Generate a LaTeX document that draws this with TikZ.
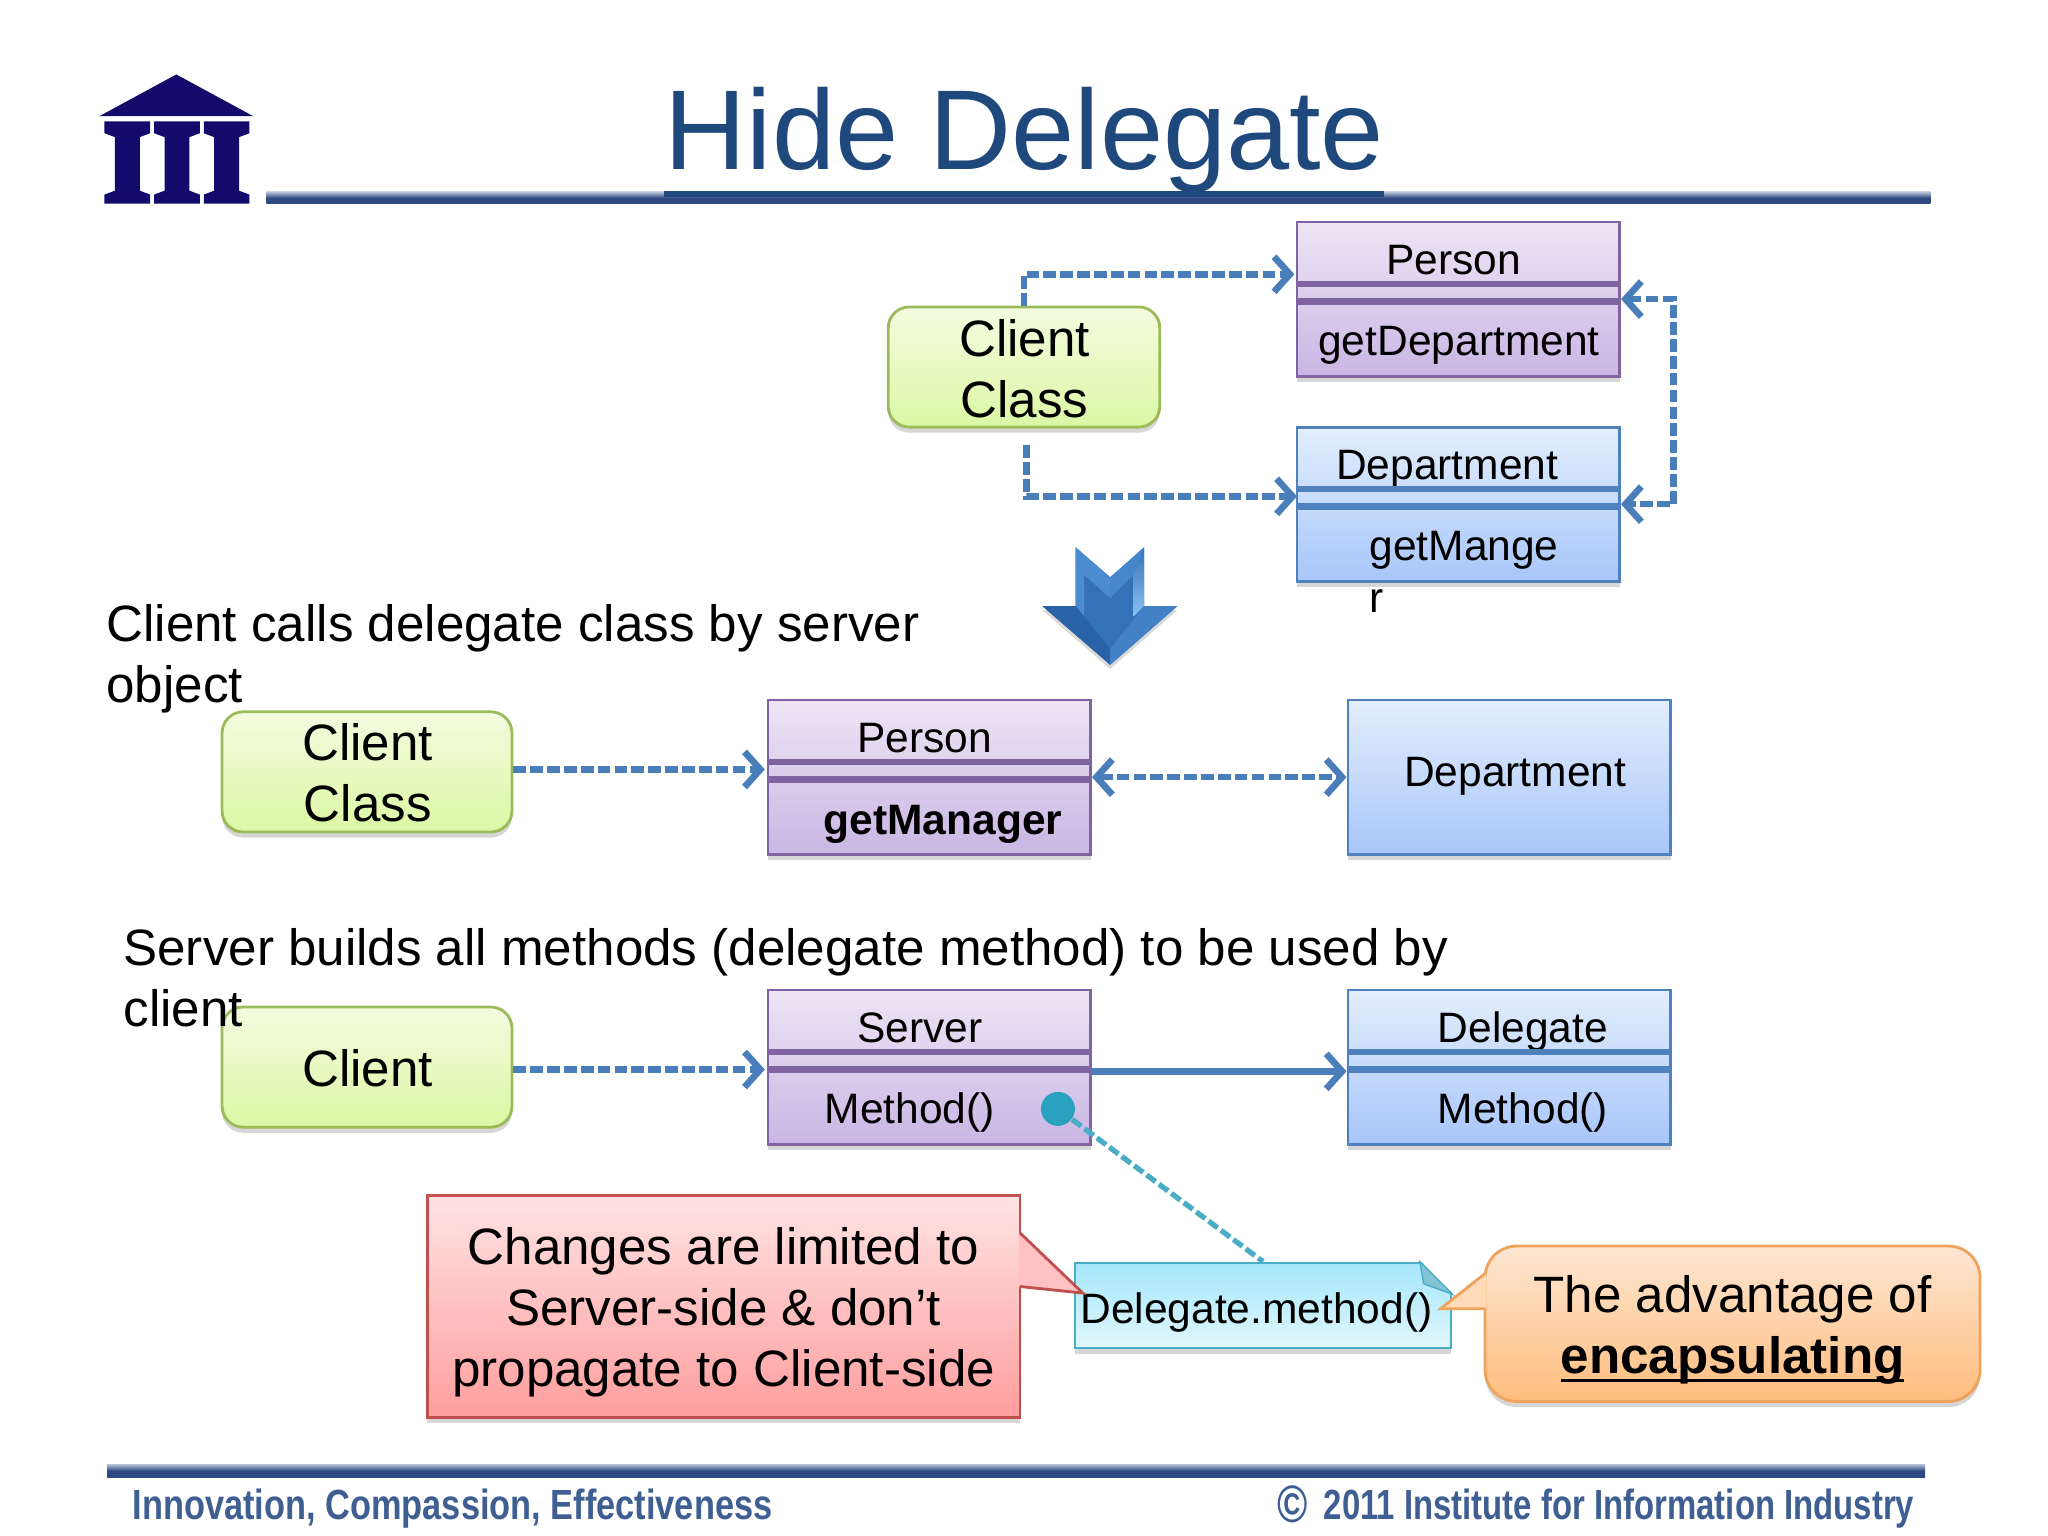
\documentclass[tikz,border=0pt]{standalone}
\usepackage{fontspec}
\setmainfont{Liberation Sans}
\newfontfamily\footfont[FakeStretch=0.815]{Liberation Sans}
\newfontfamily\footfontb[FakeStretch=0.78]{Liberation Sans}
\usetikzlibrary{positioning,calc,shadows,arrows.meta}
\definecolor{titleblue}{HTML}{1F497D}
\definecolor{logonavy}{HTML}{130B6C}
\definecolor{rulelight}{HTML}{B4C0D6}
\definecolor{ruledark}{HTML}{2F4A82}
\definecolor{linkblue}{HTML}{4A7EBB}
\definecolor{linkteal}{HTML}{4BACC6}
\definecolor{dotteal}{HTML}{2AA1BE}
\definecolor{purpletop}{HTML}{EDE5F5}
\definecolor{purplebot}{HTML}{C9B6E4}
\definecolor{purpleline}{HTML}{7F64A1}
\definecolor{bluetop}{HTML}{E3EEFD}
\definecolor{bluebot}{HTML}{A8C6FA}
\definecolor{blueline}{HTML}{4F81BD}
\definecolor{greentop}{HTML}{F4FBDF}
\definecolor{greenbot}{HTML}{DBF8A5}
\definecolor{greenline}{HTML}{9BBB59}
\definecolor{redtop}{HTML}{FFE3E3}
\definecolor{redbot}{HTML}{FF9E9E}
\definecolor{redline}{HTML}{C0504D}
\definecolor{orangetop}{HTML}{FDE6D2}
\definecolor{orangebot}{HTML}{FFBD7E}
\definecolor{orangeline}{HTML}{EFA25C}
\definecolor{notetop}{HTML}{A5E6FC}
\definecolor{notebot}{HTML}{E0F7FC}
\definecolor{footblue}{HTML}{3F5F92}
\definecolor{arrowface}{HTML}{3472B8}
\definecolor{arrowlight}{HTML}{4B8BD0}
\definecolor{arrowpale}{HTML}{8CC0F0}
\definecolor{arrowdark}{HTML}{2A62A8}
\newcommand\thickul[1]{\setbox0=\hbox{#1}\rlap{\vrule width\wd0 height -1.7pt depth 2.6pt}\box0}

\begin{document}
\begin{tikzpicture}[x=0.01306cm,y=-0.01306cm,
    softshadow/.style={drop shadow={shadow xshift=0pt,shadow yshift=-1.6pt,opacity=0.16,fill=black}},
    bigtext/.style={font=\fontsize{14.55}{17.4}\selectfont,text=black},
    classtext/.style={font=\fontsize{12.1}{14.8}\selectfont,text=black},
    classbox/.style={rectangle,inner sep=0pt,minimum width=3.226cm,minimum height=1.541cm,line width=0.8pt,softshadow},
    purplebox/.style={classbox,draw=purpleline,top color=purpletop,bottom color=purplebot},
    bluebox/.style={classbox,draw=blueline,top color=bluetop,bottom color=bluebot},
    greenbox/.style={rectangle,rounded corners=6pt,inner sep=0pt,minimum height=1.202cm,align=center,line width=0.8pt,
      draw=greenline,top color=greentop,bottom color=greenbot,softshadow,bigtext},
    dashlink/.style={draw=linkblue,line width=1.9pt,dash pattern=on 3.6pt off 1.2pt,>={Straight Barb[length=4.5pt,width=10pt]}},
    solidlink/.style={draw=linkblue,line width=1.9pt,>={Straight Barb[length=4.5pt,width=10pt]}}]
  \useasboundingbox (0,0) rectangle (1568,1176);

  \fill[logonavy] (135,57) -- (194,89) -- (76,89) -- cycle;
  \foreach \x in {80,118,156}{
    \fill[logonavy] (\x,93) -- ++(35,0) -- ++(0,9) -- ++(-8,3) -- ++(0,41) -- ++(8,3) -- ++(0,7)
      -- ++(-35,0) -- ++(0,-7) -- ++(8,-3) -- ++(0,-41) -- ++(-8,-3) -- cycle;
  }
  \shade[top color=rulelight,bottom color=ruledark,middle color=ruledark] (204,147) rectangle (1478,156);
  \fill[titleblue] (508,146) rectangle (1060,151);
  \node[font=\fontsize{32.3}{38}\selectfont,text=titleblue,anchor=base] (title) at (784.5,130) {Hide Delegate};

  \node[greenbox,minimum width=2.716cm] (clientA) at (784,281) {};
  \node[bigtext,align=center] (clientAtext) at (784.5,282.5) {Client\\Class};
  \node[purplebox] (personA) at (1116.5,229) {};
  \node[bluebox] (deptA) at (1116.5,386) {};
  \node[classtext] (personAname) at (1113,199) {Person};
  \node[classtext] (personAmethod) at (1117,264) {getDepartment};
  \node[classtext] (deptAname) at (1108,359) {Department};
  \node[classtext,align=left,anchor=north west] (deptAmethod) at (1039,397.5) {getMange\\r};
  \coordinate (clientAtop) at (784,210);
  \coordinate (personAin) at (991,210);
  \coordinate (clientAout) at (786,341);
  \coordinate (deptAin) at (993,380);
  \draw[dashlink,->] (clientA.north) -- (clientAtop) -- (personAin);
  \draw[dashlink,->] (clientAout) |- (deptAin);
  \draw[dashlink,<->] (personA.east) -- ++(40,0) |- (deptA.east);

  \fill[arrowface,drop shadow={shadow xshift=0pt,shadow yshift=-1.2pt,opacity=0.15,fill=black}]
    (823.5,419) -- (850,442) -- (876,419) -- (876,464) -- (901.5,464) -- (850,509) -- (798,464) -- (823.5,464) -- cycle;
  \fill[arrowlight] (823.5,419) -- (850,442) -- (850,458) -- (830,440) -- (830,472) -- (823.5,464) -- cycle;
  \fill[arrowlight!80!arrowface] (850,442) -- (876,419) -- (868,440) -- (850,458) -- cycle;
  \shade[top color=arrowface,bottom color=arrowpale] (876,419) -- (876,464) -- (868,472) -- (868,440) -- cycle;
  \fill[arrowlight!60!arrowface] (876,464) -- (901.5,464) -- (850,509) -- (850,497) -- cycle;
  \fill[arrowdark] (798,464) -- (823.5,464) -- (850,497) -- (850,509) -- cycle;

  \node[greenbox,minimum width=2.899cm] (clientB) at (281,591) {};
  \node[bigtext,align=center] (clientBtext) at (281.5,591.5) {Client\\Class};
  \node[purplebox] (personB) at (711.5,595) {};
  \node[bluebox] (deptB) at (1155.5,595) {};
  \node[classtext] (personBname) at (708,565) {Person};
  \node[classtext,font=\fontsize{12.1}{14.8}\selectfont\bfseries] (personBmethod) at (722,631) {getManager};
  \node[classtext] (deptBname) at (1160,594) {Department};
  \draw[dashlink,->] ([yshift=0.7pt]clientB.east) -- ([yshift=0.7pt,xshift=-0.5pt]clientB.east -| personB.west);
  \draw[dashlink,<->] (personB.east) -- (deptB.west);

  \node[greenbox,minimum width=2.899cm] (clientC) at (281,817) {};
  \node[bigtext] (clientCtext) at (281.5,818) {Client};
  \node[purplebox] (serverC) at (711.5,817) {};
  \node[bluebox] (delegateC) at (1155.5,817) {};
  \node[classtext] (serverCname) at (704.5,787) {Server};
  \node[classtext] (serverCmethod) at (696.5,852) {Method()};
  \node[classtext] (delegateCname) at (1166,790) {Delegate};
  \node[classtext] (delegateCmethod) at (1166,852) {Method()};
  \draw[dashlink,->] ([yshift=-0.7pt]clientC.east) -- ([yshift=-0.7pt,xshift=-0.5pt]clientC.east -| serverC.west);
  \draw[solidlink,->] ([yshift=-1.2pt]serverC.east) -- ([yshift=-1.2pt]delegateC.west);

  \foreach \n/\c in {personA/purpleline,personB/purpleline,serverC/purpleline,deptA/blueline,delegateC/blueline}{
    \foreach \f in {0.405,0.515}{
      \draw[\c,line width=1.8pt] ($(\n.north west)!\f!(\n.south west)$) -- ($(\n.north east)!\f!(\n.south east)$);
    }
  }

  \node[bigtext,align=left,anchor=north west] (lineB) at (72,453.5) {Client calls delegate class by server\\object};
  \node[bigtext,align=left,anchor=north west] (lineC) at (85,701) {Server builds all methods (delegate method) to be used by\\client};

  \node[rectangle,inner sep=0pt,minimum width=5.929cm,minimum height=2.22cm,line width=0.8pt,
    draw=redline,top color=redtop,bottom color=redbot,softshadow] (redC) at (554,1000) {};
  \node[bigtext,align=center] (redCtext) at (554,1004.5) {Changes are limited to\\Server-side \& don’t\\propagate to Client-side};
  \node[rectangle,inner sep=0pt,minimum width=3.761cm,minimum height=0.849cm,line width=0.8pt,
    draw=linkteal,top color=notetop,bottom color=notebot,softshadow] (noteC) at (967,999.5) {};
  \fill[white] ([shift={(-25,-1)}]noteC.north east) -- ([shift={(1,-1)}]noteC.north east) -- ([shift={(1,25)}]noteC.north east) -- cycle;
  \fill[linkteal!70!white,draw=linkteal] ([shift={(-25,0)}]noteC.north east) -- ([shift={(0,25)}]noteC.north east) -- ([shift={(-22,17)}]noteC.north east) -- cycle;
  \node[classtext] (noteCtext) at (962,1005) {Delegate.method()};
  \node[circle,inner sep=0pt,minimum size=0.34cm,fill=dotteal] (dotC) at (810,849) {};
  \draw[linkteal,line width=1.5pt,dash pattern=on 3.2pt off 1.2pt] (dotC) -- (noteC.north);

  \fill[redtop!50!redbot] (780,944) -- (829,990) -- (780,985) -- cycle;
  \draw[redline,line width=0.8pt] (781,944) -- (829,990) -- (781,985);

  \node[rectangle,rounded corners=9pt,inner sep=0pt,minimum width=4.95cm,minimum height=1.554cm,line width=0.8pt,
    draw=orangeline,top color=orangetop,bottom color=orangebot,softshadow] (orangeC) at (1326.5,1013.5) {};
  \node[bigtext,align=center] (orangeCtext) at (1326.5,1018) {The advantage of\\\bfseries\thickul{encapsulating}};
  \fill[orangetop!70!orangebot] (1138,975) -- (1103,1002) -- (1138,1002) -- cycle;
  \draw[orangeline,line width=0.8pt] (1137,975) -- (1103,1002) -- (1137,1002);

  \shade[top color=rulelight,bottom color=ruledark,middle color=ruledark] (82,1121) rectangle (1474,1131);
  \node[anchor=base west,text=footblue,font=\fontsize{12}{14}\selectfont\footfont\bfseries] (footleft) at (92,1163) {Innovation, Compassion, Effectiveness};
  \node[anchor=base east,text=footblue,font=\fontsize{12}{14}\selectfont\footfontb\bfseries] (footright) at (1475,1163) {\raisebox{-1pt}{\fontsize{15}{15}\selectfont ©}\, 2011 Institute for Information Industry};
\end{tikzpicture}
\end{document}
